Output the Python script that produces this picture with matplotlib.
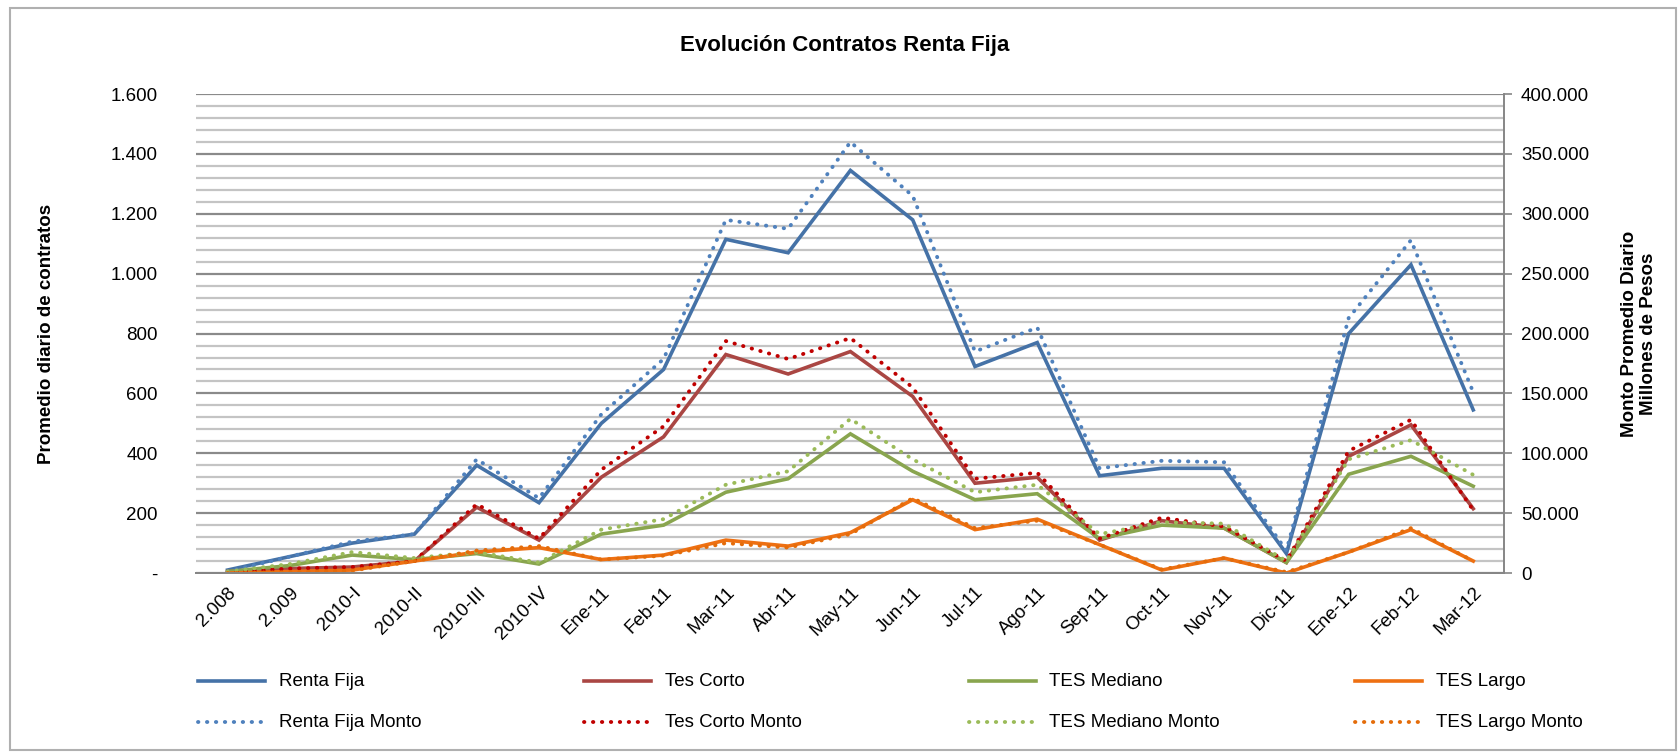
import matplotlib
matplotlib.use('Agg')
import matplotlib.pyplot as plt
from matplotlib.lines import Line2D
from matplotlib.patches import Rectangle
from matplotlib.ticker import FuncFormatter, MultipleLocator

plt.rcParams['font.family'] = ['Liberation Sans Narrow', 'Liberation Sans', 'DejaVu Sans']

# categories
periodos = ['2.008', '2.009', '2010-I', '2010-II', '2010-III', '2010-IV',
            'Ene-11', 'Feb-11', 'Mar-11', 'Abr-11', 'May-11', 'Jun-11',
            'Jul-11', 'Ago-11', 'Sep-11', 'Oct-11', 'Nov-11', 'Dic-11',
            'Ene-12', 'Feb-12', 'Mar-12']

# contratos promedio diario (eje izquierdo)
renta_fija = [10, 55, 100, 130, 360, 235, 500, 680, 1115, 1070, 1345, 1180,
              690, 770, 325, 350, 350, 65, 800, 1030, 545]
tes_corto = [5, 15, 20, 40, 220, 110, 320, 455, 730, 665, 740, 590,
             300, 320, 110, 175, 150, 35, 390, 495, 215]
tes_mediano = [5, 25, 60, 45, 65, 30, 130, 160, 270, 315, 465, 340,
               245, 265, 115, 160, 150, 35, 330, 390, 290]
tes_largo = [0, 5, 10, 40, 70, 85, 45, 60, 110, 90, 135, 245,
             145, 180, 95, 10, 50, 0, 70, 145, 40]

# monto promedio diario, millones de pesos (eje derecho)
renta_fija_monto = [1250, 13750, 26250, 32500, 95000, 62500, 132500, 178750,
                    295000, 287500, 360000, 315000, 185000, 205000, 87500,
                    93750, 92500, 18750, 213000, 278000, 151000]
tes_corto_monto = [750, 3750, 5000, 10000, 57500, 28750, 86250, 122500,
                   193750, 178750, 196250, 155000, 78750, 83750, 28750,
                   46250, 38750, 10000, 102000, 128000, 52500]
tes_mediano_monto = [1250, 7500, 17500, 12500, 17500, 8750, 36250, 45000,
                     73750, 85000, 128750, 95000, 67500, 73750, 32500,
                     42500, 41250, 10000, 95000, 111000, 82000]
tes_largo_monto = [0, 750, 2000, 10000, 18750, 22500, 11250, 14500, 25000,
                   21250, 32500, 62500, 37500, 43750, 23750, 3000, 12500,
                   750, 17500, 37500, 10000]

c_rf, c_tc, c_tm, c_tl = '#4572A7', '#AA4643', '#89A54E', '#EE7012'
c_rfm, c_tcm, c_tmm, c_tlm = '#4F81BD', '#C00000', '#9BBB59', '#E46C0A'

fig = plt.figure(figsize=(16.79, 7.53), dpi=100)
ax = fig.add_axes([0.117, 0.239, 0.779, 0.636])
ax2 = ax.twinx()

x = list(range(len(periodos)))
solid = dict(lw=2.6, solid_joinstyle='miter')
dot_ls = (0, (0.1, 2.2))
dot = dict(lw=2.8, linestyle=dot_ls, dash_capstyle='round')

ax.plot(x, renta_fija, color=c_rf, label='Renta Fija', **solid)
ax.plot(x, tes_corto, color=c_tc, label='Tes Corto', **solid)
ax.plot(x, tes_mediano, color=c_tm, label='TES Mediano', **solid)
ax.plot(x, tes_largo, color=c_tl, label='TES Largo', **solid)
ax2.plot(x, renta_fija_monto, color=c_rfm, label='Renta Fija Monto', **dot)
ax2.plot(x, tes_corto_monto, color=c_tcm, label='Tes Corto Monto', **dot)
ax2.plot(x, tes_mediano_monto, color=c_tmm, label='TES Mediano Monto', **dot)
ax2.plot(x, tes_largo_monto, color=c_tlm, label='TES Largo Monto', **dot)

ax.set_xlim(-0.5, len(periodos) - 0.5)
ax.set_ylim(0, 1600)
ax2.set_ylim(0, 400000)

ax.yaxis.set_major_locator(MultipleLocator(200))
ax.yaxis.set_minor_locator(MultipleLocator(40))
ax2.yaxis.set_major_locator(MultipleLocator(50000))

def miles(v, pos):
    return '{:,.0f}'.format(v).replace(',', '.')

ax.yaxis.set_major_formatter(FuncFormatter(lambda v, p: '-' if v == 0 else miles(v, p)))
ax2.yaxis.set_major_formatter(FuncFormatter(miles))

ax.grid(which='minor', axis='y', color='#c4c4c4', lw=1.6)
ax.grid(which='major', axis='y', color='#8a8a8a', lw=1.6)
ax.set_axisbelow(True)
ax.tick_params(axis='y', which='both', length=0, labelsize=13.5, pad=28)
ax2.tick_params(axis='y', length=6, color='#868686', width=1.2, labelsize=13.5, pad=6)

ax.set_xticks(x)
ax.set_xticklabels(periodos, rotation=45, ha='right', rotation_mode='anchor', fontsize=13.5)
ax.tick_params(axis='x', length=0, pad=8)

for a in (ax, ax2):
    a.spines['top'].set_visible(False)
    a.spines['left'].set_visible(False)
    a.spines['bottom'].set_color('#868686')
    a.spines['bottom'].set_linewidth(1.4)
    a.spines['right'].set_visible(False)
ax2.spines['right'].set_visible(True)
ax2.spines['right'].set_color('#868686')
ax2.spines['right'].set_linewidth(1.4)

ax.set_ylabel('Promedio diario de contratos', fontsize=13.5, fontweight='bold')
ax.yaxis.set_label_coords(-0.108, 0.5)
ax2.set_ylabel('Monto Promedio Diario\nMillones de Pesos', fontsize=13.5,
               fontweight='bold', rotation=90, va='center', ha='center')
ax2.yaxis.set_label_coords(1.103, 0.5)

fig.text(0.503, 0.94, 'Evolución Contratos Renta Fija', ha='center', va='center',
         fontsize=16, fontweight='bold')

# legend, two rows of four entries
h1 = ax.get_lines()
h2 = ax2.get_lines()
col_x = [0.118, 0.348, 0.577, 0.807]
row_y = [0.0956, 0.041]
for row, hs in enumerate([h1, h2]):
    for i, h in enumerate(hs):
        x0 = col_x[i]
        y0 = row_y[row]
        ls = '-' if row == 0 else dot_ls
        ln = Line2D([x0, x0 + 0.040], [y0, y0], transform=fig.transFigure,
                    color=h.get_color(), lw=h.get_linewidth(),
                    linestyle=ls, dash_capstyle='round')
        fig.add_artist(ln)
        fig.text(x0 + 0.048, y0, h.get_label(), ha='left', va='center', fontsize=13.5)

fig.add_artist(Rectangle((0.006, 0.004), 0.992, 0.986, transform=fig.transFigure,
                         fill=False, edgecolor='#b0b0b0', lw=1.5))

fig.savefig('out.png', dpi=100)
